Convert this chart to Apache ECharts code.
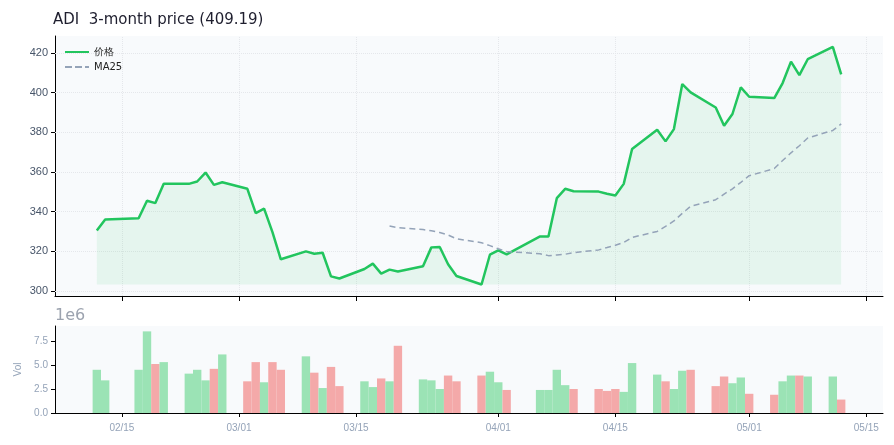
<!DOCTYPE html>
<html><head><meta charset="utf-8">
<script src="https://cdn.jsdelivr.net/npm/echarts@6/dist/echarts.min.js"></script>
<style>html,body{margin:0;padding:0;background:#fff}#c{width:894px;height:445px}</style>
</head><body><div id="c"></div>
<script>
const dates = ['2026-02-12','2026-02-13','2026-02-17','2026-02-18','2026-02-19','2026-02-20','2026-02-23','2026-02-24','2026-02-25','2026-02-26','2026-02-27',
'2026-03-02','2026-03-03','2026-03-04','2026-03-05','2026-03-06','2026-03-09','2026-03-10','2026-03-11','2026-03-12','2026-03-13',
'2026-03-16','2026-03-17','2026-03-18','2026-03-19','2026-03-20','2026-03-23','2026-03-24','2026-03-25','2026-03-26','2026-03-27',
'2026-03-30','2026-03-31','2026-04-01','2026-04-02','2026-04-06','2026-04-07','2026-04-08','2026-04-09','2026-04-10',
'2026-04-13','2026-04-14','2026-04-15','2026-04-16','2026-04-17','2026-04-20','2026-04-21','2026-04-22','2026-04-23','2026-04-24',
'2026-04-27','2026-04-28','2026-04-29','2026-04-30','2026-05-01','2026-05-04','2026-05-05','2026-05-06','2026-05-07','2026-05-08',
'2026-05-11','2026-05-12'];
const close = [330.5,336.1,336.7,345.5,344.3,354.0,354.0,355.2,359.7,353.5,354.8,
351.5,339.3,341.5,329.7,316.0,320.0,318.8,319.3,307.4,306.3,
311.1,313.8,308.8,310.8,309.8,312.5,322.0,322.2,313.5,307.6,
303.3,318.3,320.5,318.5,327.5,327.5,346.8,351.5,350.3,
350.1,349.0,348.1,354.0,371.6,381.3,375.4,381.6,404.3,400.1,
392.5,383.3,389.2,402.6,397.9,397.2,404.8,415.6,408.8,416.8,
423.0,409.19];
const volume = [4.5,3.4,4.5,8.5,5.1,5.3,4.1,4.5,3.4,4.6,6.1,
3.3,5.3,3.2,5.3,4.5,5.9,4.2,2.6,4.8,2.8,
3.3,2.7,3.6,3.3,7.0,3.5,3.4,2.5,3.9,3.3,
3.9,4.3,3.2,2.4,2.4,2.4,4.5,2.9,2.5,
2.5,2.3,2.5,2.2,5.2,4.0,3.3,2.5,4.4,4.5,
2.8,3.8,3.1,3.7,2.0,1.9,3.3,3.9,3.9,3.8,
3.8,1.4];
const priceTicks = [300,320,340,360,380,400,420];
const volTicks = [0,2.5,5.0,7.5];
const dateTicks = ['2026-02-15','2026-03-01','2026-03-15','2026-04-01','2026-04-15','2026-05-01','2026-05-15'];

const ts = s => { const [y,m,d] = s.split('-').map(Number); return Date.UTC(y,m-1,d); };
const t = dates.map(ts);
const tickT = dateTicks.map(ts);
const ma = close.map((v,i)=> i<24 ? null : +(close.slice(i-24,i+1).reduce((a,b)=>a+b,0)/25).toFixed(2));
const GREEN='#9be3b5', RED='#f4a9a9';
const volData = volume.map((v,i)=>({value:[t[i],v], itemStyle:{color: (i===0||close[i]>=close[i-1])?GREEN:RED}}));
const fmt = v => { const d=new Date(v); return String(d.getUTCMonth()+1).padStart(2,'0')+'/'+String(d.getUTCDate()).padStart(2,'0'); };
const xmin = ts('2026-02-07'), xmax = ts('2026-05-17');
const gridLineStyle = {color:'#e5e7eb', type:'dotted', width:1};
const chart = echarts.init(document.getElementById('c'));
chart.setOption({
  animation:false,
  title:{text:'ADI  3-month price (409.19)', left:48, top:8, textStyle:{fontSize:15, fontWeight:'normal', color:'#1e1e2e', fontFamily:'DejaVu Sans'}},
  legend:{orient:'vertical', left:60, top:42, itemWidth:24, itemHeight:8, itemGap:5,
    textStyle:{fontSize:10, color:'#222', fontFamily:'DejaVu Sans'},
    data:[{name:'价格', icon:'path://M0,3h24v2h-24z'},{name:'MA25', icon:'path://M0,3h7v2h-7zM10,3h7v2h-7zM20,3h4v2h-4z'}]},
  graphic:[{type:'text', left:55, top:308, style:{text:'1e6', fontSize:16, fill:'#9ca3af', fontFamily:'DejaVu Sans'}}],
  grid:[{left:55, right:11, top:36, height:260, backgroundColor:'#f8fafc', show:true, borderWidth:0},
        {left:55, right:11, top:326, height:87, backgroundColor:'#f8fafc', show:true, borderWidth:0}],
  xAxis:[
    {type:'value', gridIndex:0, min:xmin, max:xmax, axisLine:{lineStyle:{color:'#000'}},
     axisTick:{customValues:tickT, length:5, lineStyle:{color:'#000'}}, axisLabel:{show:false}, splitLine:{show:false}},
    {type:'value', gridIndex:1, min:xmin, max:xmax, axisLine:{lineStyle:{color:'#000'}},
     axisTick:{customValues:tickT, length:4, lineStyle:{color:'#000'}},
     axisLabel:{customValues:tickT, formatter:fmt, color:'#94a3b8', fontSize:10, margin:10}, splitLine:{show:false}}
  ],
  yAxis:[
    {type:'value', gridIndex:0, min:297.5, max:428.5, axisLine:{show:true, lineStyle:{color:'#000'}},
     axisTick:{show:true, customValues:priceTicks, length:4, lineStyle:{color:'#000'}},
     axisLabel:{customValues:priceTicks, color:'#475569', fontSize:11, margin:7}, splitLine:{show:false}},
    {type:'value', gridIndex:1, min:0, max:9.06, name:'Vol', nameLocation:'middle', nameGap:32, nameRotate:90,
     nameTextStyle:{color:'#94a3b8', fontSize:10},
     axisLine:{show:true, lineStyle:{color:'#000'}},
     axisTick:{show:true, customValues:volTicks, length:4, lineStyle:{color:'#000'}},
     axisLabel:{customValues:volTicks, formatter:v=>v.toFixed(1), color:'#94a3b8', fontSize:10, margin:7}, splitLine:{show:false}}
  ],
  series:[
    {name:'价格', type:'line', xAxisIndex:0, yAxisIndex:0, data:t.map((x,i)=>[x,close[i]]),
     showSymbol:false, lineStyle:{color:'#22c55e', width:2.5}, itemStyle:{color:'#22c55e'},
     areaStyle:{color:'rgba(34,197,94,0.12)', origin:Math.min(...close)}, z:3,
     markLine:{silent:true, symbol:'none', label:{show:false}, lineStyle:gridLineStyle, z:1,
       data:[...priceTicks.map(v=>({yAxis:v})), ...tickT.map(v=>({xAxis:v}))]}},
    {name:'MA25', type:'line', xAxisIndex:0, yAxisIndex:0, data:t.map((x,i)=>[x,ma[i]]),
     showSymbol:false, connectNulls:false, lineStyle:{color:'#94a3b8', width:1.5, type:[6,4]}, itemStyle:{color:'#94a3b8'}, z:4},
    {name:'Vol', type:'bar', xAxisIndex:1, yAxisIndex:1, data:volData, barWidth:8.4}
  ]
});
</script></body></html>
